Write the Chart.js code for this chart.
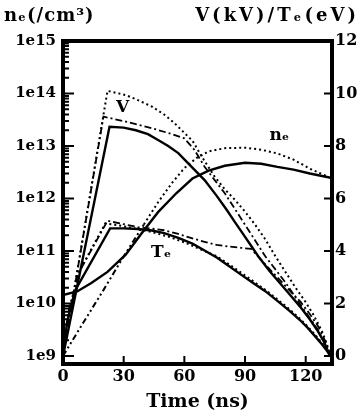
<!DOCTYPE html>
<html>
<head>
<meta charset="utf-8">
<script src="https://cdn.jsdelivr.net/npm/chart.js@4.4.1/dist/chart.umd.min.js"></script>
<style>
  html, body { margin: 0; padding: 0; background: #fff; }
  canvas { display: block; }
</style>
</head>
<body>
<canvas id="myChart" width="361" height="417"></canvas>
<script>
// time (ns) and values
const vSolidT = [0, 23, 30, 36, 42, 47, 52, 57, 63, 70, 76, 81, 85, 89, 93, 97, 102, 107, 112, 117, 122, 126, 129, 132]
const vSolid = [0, 8.73, 8.7, 8.6, 8.45, 8.23, 8.0, 7.73, 7.25, 6.7, 6.1, 5.56, 5.1, 4.65, 4.2, 3.75, 3.25, 2.8, 2.35, 1.9, 1.4, 0.95, 0.55, 0]

const vDashT = [0, 20, 31, 40, 47, 54, 60, 65, 70, 75, 80, 85, 90, 95, 100, 105, 110, 117, 122, 126, 129, 132]
const vDash = [0, 9.12, 8.93, 8.75, 8.61, 8.45, 8.29, 7.85, 7.21, 6.7, 6.2, 5.6, 5.0, 4.4, 3.8, 3.3, 2.8, 2.0, 1.45, 1.0, 0.55, 0]

const vDotT = [0, 22, 31, 37, 44, 50, 55, 60, 64, 69, 75, 80, 85, 90, 95, 100, 105, 110, 115, 120, 124, 128, 130.5, 132.3]
const vDot = [0, 10.1, 9.94, 9.75, 9.5, 9.2, 8.88, 8.5, 8.2, 7.55, 6.83, 6.35, 5.95, 5.5, 5.0, 4.45, 3.8, 3.2, 2.6, 2.05, 1.55, 0.95, 0.45, 0]

const teSolidT = [0, 2, 6, 23.3, 30, 37, 44, 50, 57, 64, 70, 76, 82, 88, 94, 100, 106, 112, 117, 121, 125, 128, 130.5, 132.3]
const teSolid = [0, 1.3, 2.5, 4.86, 4.86, 4.84, 4.78, 4.68, 4.5, 4.28, 4.02, 3.75, 3.43, 3.1, 2.78, 2.47, 2.1, 1.72, 1.38, 1.07, 0.72, 0.45, 0.2, 0]

const teDotT = [0, 3, 7.6, 20.9, 28, 36, 44, 52, 60, 68, 76, 82, 88, 94, 100, 106, 112, 117, 121, 125, 128, 130.5, 132.3]
const teDot = [0, 1.7, 3.16, 5.05, 4.97, 4.85, 4.72, 4.55, 4.33, 4.06, 3.8, 3.5, 3.18, 2.85, 2.52, 2.16, 1.78, 1.43, 1.12, 0.78, 0.5, 0.24, 0]

const teDashT = [0, 3, 8, 22, 30, 37, 44, 50, 57, 64, 70, 76, 82, 88, 93, 97, 101, 106, 112, 117.5, 122, 126, 129.5, 132.3]
const teDash = [0, 1.8, 3.2, 5.15, 5.02, 4.91, 4.85, 4.79, 4.65, 4.48, 4.35, 4.23, 4.17, 4.12, 4.08, 3.75, 3.4, 3.0, 2.5, 2.06, 1.6, 1.15, 0.6, 0]

const neSolidT = [0, 7, 14, 22, 31, 39, 47, 56, 64, 72, 80, 90, 98, 106, 114, 122, 133]
const neSolid = [1.45e10, 1.7e10, 2.45e10, 4.0e10, 8.5e10, 2.2e11, 5.5e11, 1.26e12, 2.4e12, 3.4e12, 4.2e12, 4.8e12, 4.6e12, 4.0e12, 3.55e12, 3.0e12, 2.45e12]

const neDotT = [0, 10, 20, 30, 40, 47, 54, 60, 66, 72, 80, 90, 98, 106, 114, 122, 131]
const neDot = [1e9, 4.3e9, 1.8e10, 7.9e10, 3.2e11, 8.5e11, 2.0e12, 3.8e12, 5.9e12, 7.9e12, 9.1e12, 9.3e12, 8.5e12, 7.2e12, 5.5e12, 3.7e12, 2.6e12]

const timeTicks = [0, 30, 60, 90, 120]
const rightTicks = [0, 2, 4, 6, 8, 10, 12]
const leftTicks = [1e9, 1e10, 1e11, 1e12, 1e13, 1e14, 1e15]
const leftTickLabels = ['1e9', '1e10', '1e11', '1e12', '1e13', '1e14', '1e15']

const FONT = 'DejaVu Serif'

function pts(ts, vs) {
    return ts.map((t, i) => ({ x: t, y: vs[i] }))
}

function line(ts, vs, dash, axis, width) {
    return {
        data: pts(ts, vs),
        borderColor: '#000',
        borderWidth: width || 2,
        borderDash: dash,
        pointRadius: 0,
        tension: 0,
        fill: false,
        yAxisID: axis
    }
}

const DOT = [2, 3]
const DASHDOT = [7, 3, 2, 3]

const neDotLine = line(neDotT, neDot, DOT, 'y', 2)
neDotLine.segment = {
    borderDash: c => c.p0.parsed.x < 40 ? [6, 3, 2, 3, 2, 3] : DOT
}

// inward ticks, frame and curve labels
const inkPlugin = {
    id: 'ink',
    afterDraw(chart) {
        const { ctx, chartArea: a, scales } = chart
        const x = scales.x, y = scales.y, y1 = scales.y1
        ctx.save()
        ctx.strokeStyle = '#000'
        ctx.fillStyle = '#000'

        ctx.lineWidth = 2
        ctx.beginPath()
        for (let e = 9; e < 15; e++) {
            for (let m = 1; m < 10; m++) {
                const py = y.getPixelForValue(m * Math.pow(10, e))
                const len = m === 1 ? 11 : 6
                ctx.moveTo(a.left, py)
                ctx.lineTo(a.left + len, py)
            }
        }
        rightTicks.forEach(v => {
            const py = y1.getPixelForValue(v)
            ctx.moveTo(a.right, py)
            ctx.lineTo(a.right - 8, py)
        })
        timeTicks.forEach(v => {
            const px = x.getPixelForValue(v)
            ctx.moveTo(px, a.bottom)
            ctx.lineTo(px, a.bottom - 8)
        })
        ctx.stroke()

        ctx.lineWidth = 4
        ctx.strokeRect(a.left, a.top, a.right - a.left, a.bottom - a.top)

        // axis headings
        ctx.textBaseline = 'middle'
        ctx.font = 'bold 18px "' + FONT + '"'
        ctx.letterSpacing = '1px'
        ctx.textAlign = 'left'
        ctx.fillText('nₑ(/cm³)', 4, 16)
        ctx.letterSpacing = '3px'
        ctx.textAlign = 'right'
        ctx.fillText('V(kV)/Tₑ(eV)', 359, 16)
        ctx.letterSpacing = '0px'

        // curve labels
        ctx.textAlign = 'center'
        ctx.font = 'bold 17px "' + FONT + '"'
        ctx.fillText('V', x.getPixelForValue(29.5), y1.getPixelForValue(9.45))
        ctx.fillText('Tₑ', x.getPixelForValue(48.5), y1.getPixelForValue(3.95))
        ctx.fillText('nₑ', x.getPixelForValue(107), y1.getPixelForValue(8.4))
        ctx.restore()
    }
}

const config = {
    type: 'line',
    data: {
        datasets: [
            line(vSolidT, vSolid, [], 'y1', 2.4),
            line(vDashT, vDash, DASHDOT, 'y1', 1.8),
            line(vDotT, vDot, DOT, 'y1', 2),
            line(teSolidT, teSolid, [], 'y1', 2.4),
            line(teDotT, teDot, DOT, 'y1', 2),
            line(teDashT, teDash, DASHDOT, 'y1', 1.8),
            line(neSolidT, neSolid, [], 'y', 2.4),
            neDotLine
        ]
    },
    options: {
        responsive: false,
        animation: false,
        devicePixelRatio: 1,
        layout: { padding: { top: 41, left: 0, right: 0, bottom: 0 } },
        plugins: { legend: { display: false }, tooltip: { enabled: false } },
        scales: {
            x: {
                type: 'linear',
                position: 'bottom',
                min: 0,
                max: 133,
                grid: { display: false, drawTicks: false },
                border: { display: false },
                afterBuildTicks: s => { s.ticks = timeTicks.map(v => ({ value: v })) },
                afterFit: s => { s.height = 53 },
                ticks: {
                    color: '#000',
                    padding: 3,
                    maxRotation: 0,
                    font: { family: FONT, weight: 'bold', size: 16 }
                },
                title: {
                    display: true,
                    text: 'Time (ns)',
                    color: '#000',
                    padding: { top: 0, bottom: 4 },
                    font: { family: FONT, weight: 'bold', size: 19 }
                }
            },
            y: {
                type: 'logarithmic',
                position: 'left',
                min: Math.pow(10, 8.848),
                max: 1e15,
                grid: { display: false, drawTicks: false },
                border: { display: false },
                afterBuildTicks: s => { s.ticks = leftTicks.map(v => ({ value: v })) },
                afterFit: s => { s.width = 63 },
                ticks: {
                    color: '#000',
                    padding: 7,
                    callback: (v, i) => leftTickLabels[i],
                    font: { family: FONT, weight: 'bold', size: 15 }
                }
            },
            y1: {
                type: 'linear',
                position: 'right',
                min: -0.305,
                max: 12,
                grid: { display: false, drawTicks: false },
                border: { display: false },
                afterBuildTicks: s => { s.ticks = rightTicks.map(v => ({ value: v })) },
                afterFit: s => { s.width = 29 },
                ticks: {
                    color: '#000',
                    padding: 3,
                    font: { family: FONT, weight: 'bold', size: 16 }
                }
            }
        }
    },
    plugins: [inkPlugin]
}

const myChart = new Chart(document.getElementById('myChart'), config)
</script>
</body>
</html>
